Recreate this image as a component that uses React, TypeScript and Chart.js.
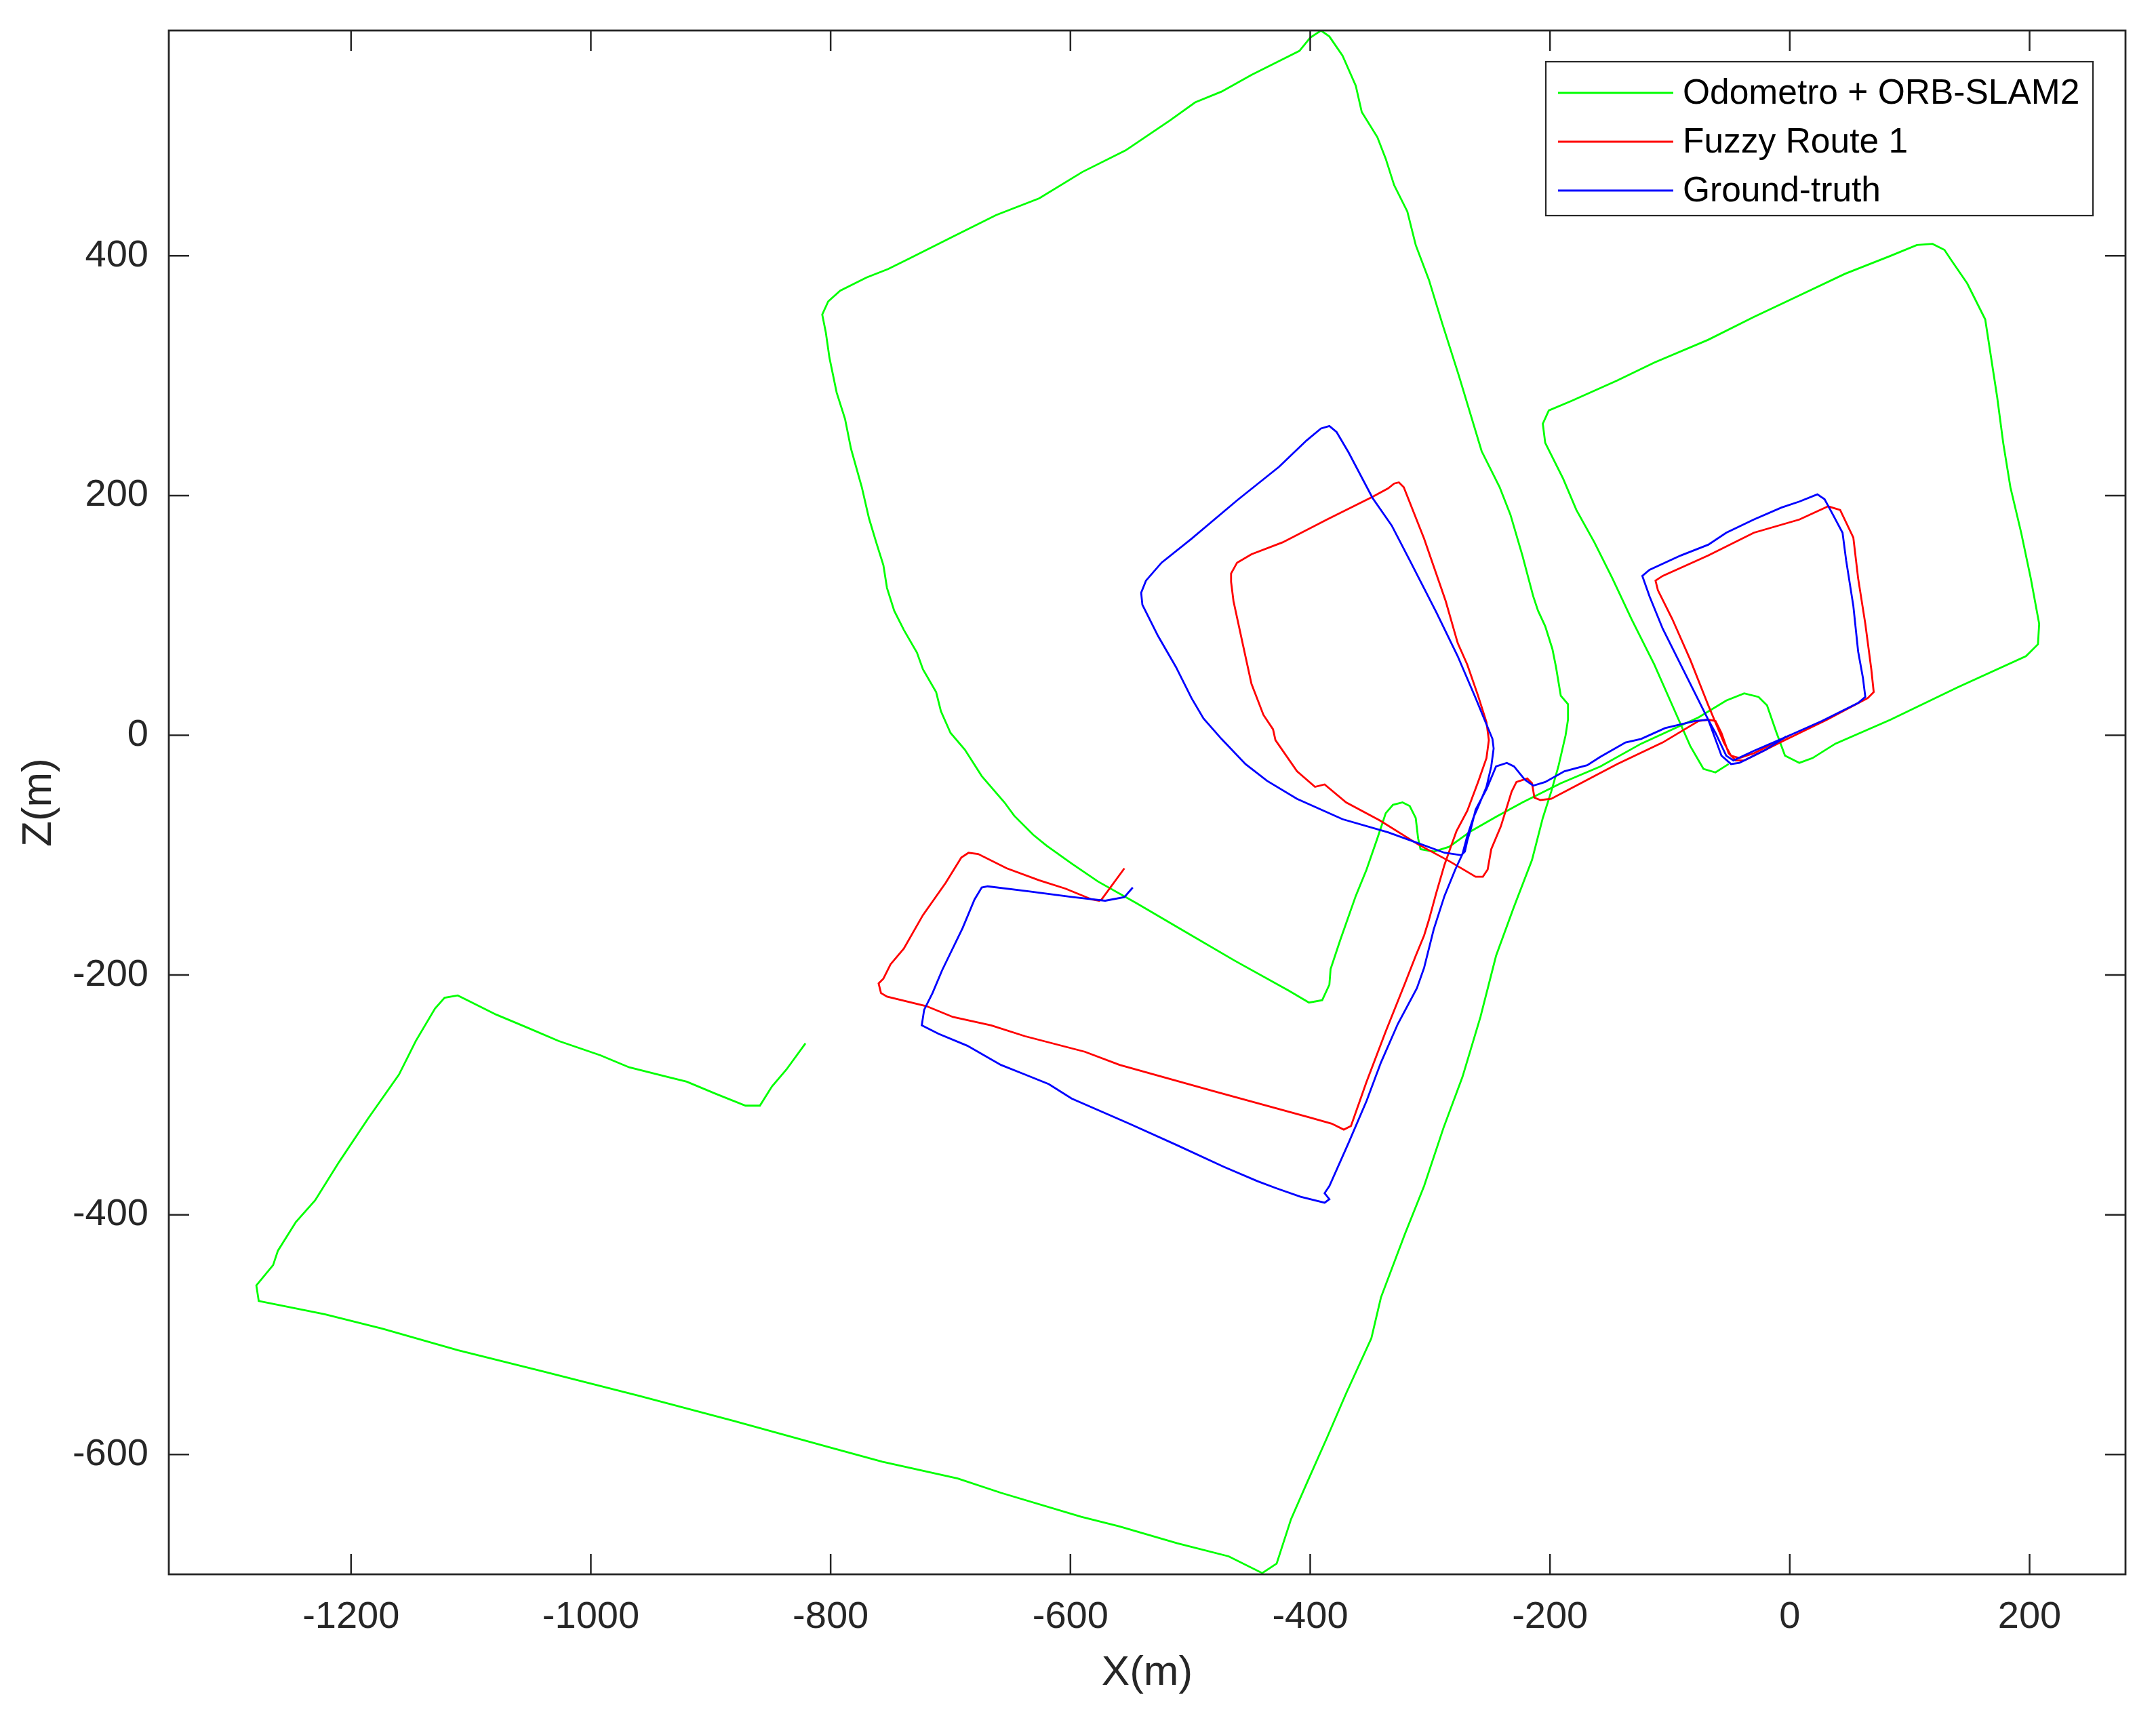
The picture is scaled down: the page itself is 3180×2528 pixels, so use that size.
import React, { useEffect, useRef } from "react";
import { Chart, registerables } from "chart.js";

Chart.register(...registerables);

// ---- Data (metres) ----
const odometroX = [
  -821, -837, -849, -859, -871, -896, -920, -936, -968, -992, -1027, -1055, -1079, -1103, -1111, -1122, -1130, -1146, -1160, -1186,
  -1210, -1230, -1246, -1261, -1265, -1279, -1277, -1222, -1174, -1111, -1039, -960, -881, -801, -757, -694, -658, -591, -559, -511,
  -468, -440, -428, -416, -402, -386, -370, -349, -341, -321, -305, -289, -273, -258, -245, -230, -215, -206, -199, -193,
  -187, -185, -185, -191, -195, -198, -204, -210, -214, -223, -233, -242, -257, -276, -290, -301, -312, -319, -330, -337,
  -344, -357, -362, -373, -384, -391, -400, -409, -427, -449, -474, -496, -517, -554, -590, -626, -662, -698, -734, -752,
  -770, -792, -802, -807, -804, -801, -795, -788, -783, -774, -768, -762, -756, -753, -747, -739, -728, -723, -712, -708,
  -700, -688, -674, -655, -647, -631, -620, -599, -577, -545, -504, -463, -418, -401, -390, -384, -383, -375, -362, -353,
  -344, -337, -331, -323, -317, -312, -310, -308, -297, -284, -266, -245, -223, -191, -158, -124, -76, -53, -38, -26,
  -19, -11, -4, 8, 19, 38, 84, 140, 197, 207, 208, 201, 193, 184, 178, 173, 163, 148, 135, 129,
  119, 106, 84, 46, 8, -30, -68, -113, -144, -182, -201, -206, -204, -189, -178, -163, -148, -132, -113, -98,
  -83, -72, -62, -51,
];
const odometroY = [
  -257, -279, -293, -309, -309, -299, -289, -285, -277, -267, -255, -243, -233, -221, -217, -219, -228, -255, -283, -320,
  -356, -388, -406, -430, -442, -459, -472, -483, -495, -513, -531, -551, -572, -594, -606, -620, -632, -652, -660, -674,
  -685, -699, -691, -654, -622, -586, -549, -503, -469, -416, -376, -328, -285, -235, -184, -143, -104, -69, -47, -26,
  0, 13, 26, 33, 57, 72, 91, 104, 116, 150, 184, 207, 237, 300, 344, 380, 409, 437, 459, 481,
  499, 520, 542, 567, 583, 588, 582, 571, 562, 551, 537, 528, 513, 488, 470, 448, 434, 416, 398, 389,
  382, 371, 362, 351, 336, 315, 286, 264, 239, 207, 181, 161, 142, 123, 104, 88, 69, 55, 36, 20,
  2, -12, -34, -56, -67, -83, -92, -107, -122, -140, -164, -188, -213, -223, -221, -208, -195, -171, -134, -112,
  -86, -65, -58, -56, -59, -69, -86, -95, -97, -93, -80, -68, -56, -40, -26, -7, 15, 29, 35, 32,
  25, 2, -17, -23, -19, -7, 13, 40, 66, 76, 93, 131, 169, 207, 244, 282, 347, 377, 396, 405,
  410, 409, 400, 385, 367, 349, 330, 311, 296, 279, 271, 260, 244, 214, 188, 161, 131, 97, 59, 25,
  -9, -28, -31, -24,
];

const fuzzyX = [
  -555, -574, -576, -582, -604, -626, -653, -677, -685, -691, -704, -723, -739, -750, -756, -760, -758, -753, -720, -698,
  -666, -638, -588, -559, -480, -400, -382, -372, -366, -353, -337, -321, -312, -305, -301, -295, -288, -282, -278, -269,
  -260, -253, -251, -253, -260, -269, -277, -287, -305, -322, -326, -330, -335, -348, -386, -423, -449, -461, -466, -466,
  -464, -456, -449, -439, -431, -429, -411, -396, -388, -370, -342, -310, -284, -262, -256, -252, -249, -241, -232, -228,
  -219, -215, -213, -208, -199, -180, -144, -106, -76, -68, -62, -57, -51, -45, -38, -4, 31, 65, 70, 68,
  63, 57, 53, 42, 32, 8, -30, -68, -106, -112, -110, -98, -83, -68, -55, -49, -42, -30, 0,
];
const fuzzyY = [
  -111, -137, -138, -137, -128, -121, -111, -99, -98, -102, -123, -150, -178, -191, -203, -207, -215, -218, -226, -235,
  -242, -251, -264, -275, -297, -319, -324, -329, -326, -289, -247, -207, -184, -167, -154, -132, -108, -91, -80, -63,
  -39, -19, -4, 11, 33, 59, 77, 112, 164, 207, 211, 210, 206, 199, 180, 161, 151, 144, 135, 128,
  112, 75, 43, 17, 5, -4, -30, -43, -41, -56, -71, -91, -105, -118, -118, -112, -95, -76, -47, -39,
  -36, -40, -52, -54, -53, -43, -24, -6, 12, 13, 12, 2, -15, -21, -21, -4, 13, 31, 36, 55,
  93, 131, 165, 188, 191, 180, 169, 150, 133, 129, 121, 97, 63, 25, -6, -17, -19, -15, 0,
];

const groundX = [
  -548, -555, -571, -598, -636, -669, -674, -680, -690, -707, -715, -722, -724, -710, -686, -658, -638, -618, -599, -551,
  -511, -472, -444, -428, -408, -388, -384, -388, -384, -368, -353, -341, -327, -311, -305, -297, -288, -279, -273, -269,
  -264, -260, -253, -249, -247, -248, -262, -277, -295, -317, -332, -348, -368, -378, -384, -391, -403, -426, -461, -499,
  -524, -537, -541, -540, -527, -512, -499, -489, -474, -454, -436, -411, -373, -335, -310, -288, -274, -271, -269, -266,
  -262, -253, -245, -236, -230, -221, -214, -204, -188, -169, -158, -137, -124, -104, -79, -68, -62, -53, -47, -30,
  0, 27, 57, 63, 61, 57, 53, 47, 44, 36, 29, 23, 8, -7, -30, -53, -68, -91, -117, -123,
  -117, -106, -87, -68, -57, -49, -42, -20, -3,
];
const groundY = [
  -127, -135, -138, -135, -130, -126, -127, -137, -161, -196, -215, -229, -242, -249, -259, -275, -283, -291, -303, -324,
  -342, -360, -372, -378, -385, -390, -387, -382, -376, -340, -305, -273, -241, -211, -194, -162, -134, -112, -99, -84,
  -69, -60, -43, -26, -11, -3, 31, 66, 103, 146, 175, 198, 236, 253, 258, 256, 246, 224, 196, 164,
  144, 129, 119, 109, 83, 57, 31, 14, -3, -24, -38, -53, -70, -81, -90, -98, -100, -97, -88, -78,
  -62, -45, -26, -23, -26, -37, -42, -39, -30, -25, -18, -6, -3, 6, 12, 13, 2, -17, -21, -13,
  0, 12, 27, 32, 48, 70, 108, 146, 169, 184, 197, 201, 195, 190, 180, 169, 159, 150, 138, 133,
  116, 89, 51, 13, -17, -24, -23, -12, -1,
];

const seriesLabels = ["Odometro + ORB-SLAM2", "Fuzzy Route 1", "Ground-truth"];
const seriesColors = ["#00ff00", "#ff0000", "#0000ff"];

const xTickValues = [-1200, -1000, -800, -600, -400, -200, 0, 200];
const yTickValues = [-600, -400, -200, 0, 200, 400];
const xLimits = [-1352, 280];
const yLimits = [-700, 588];

const FONT = "'Liberation Sans', Arial, Helvetica, sans-serif";
const AXIS_COLOR = "#262626";

const toPoints = (xs: number[], ys: number[]) => xs.map((x, i) => ({ x, y: ys[i] }));

const framePlugin = {
  id: "matlabFrame",
  afterDraw(chart: any) {
    const { ctx, chartArea, scales } = chart;
    const { left, right, top, bottom } = chartArea;
    ctx.save();
    ctx.strokeStyle = AXIS_COLOR;
    ctx.lineWidth = 2.5;
    const tl = 30;
    ctx.beginPath();
    for (const v of xTickValues) {
      const px = scales.x.getPixelForValue(v);
      ctx.moveTo(px, bottom);
      ctx.lineTo(px, bottom - tl);
      ctx.moveTo(px, top);
      ctx.lineTo(px, top + tl);
    }
    for (const v of yTickValues) {
      const py = scales.y.getPixelForValue(v);
      ctx.moveTo(left, py);
      ctx.lineTo(left + tl, py);
      ctx.moveTo(right, py);
      ctx.lineTo(right - tl, py);
    }
    ctx.stroke();
    ctx.lineWidth = 2.8;
    ctx.strokeRect(left, top, right - left, bottom - top);

    // Legend box (inside axes, north-east)
    const bx = 2280, by = 91, bw = 807, bh = 227;
    ctx.fillStyle = "#ffffff";
    ctx.fillRect(bx, by, bw, bh);
    ctx.lineWidth = 2.2;
    ctx.strokeStyle = AXIS_COLOR;
    ctx.strokeRect(bx, by, bw, bh);
    const rows = [137, 209, 281];
    ctx.font = `51.5px ${FONT}`;
    ctx.textBaseline = "middle";
    ctx.textAlign = "left";
    seriesLabels.forEach((lab, i) => {
      ctx.strokeStyle = seriesColors[i];
      ctx.lineWidth = 2.8;
      ctx.beginPath();
      ctx.moveTo(2298, rows[i]);
      ctx.lineTo(2468, rows[i]);
      ctx.stroke();
      ctx.fillStyle = "#000000";
      ctx.fillText(lab, 2482, rows[i] + 2);
    });
    ctx.restore();
  },
};

export default function App() {
  const canvasRef = useRef<HTMLCanvasElement | null>(null);

  useEffect(() => {
    if (!canvasRef.current) return;
    const allX = [odometroX, fuzzyX, groundX];
    const allY = [odometroY, fuzzyY, groundY];
    const orders = [3, 2, 1];
    const datasets = seriesLabels.map((label, i) => ({
      label,
      data: toPoints(allX[i], allY[i]),
      borderColor: seriesColors[i],
      backgroundColor: seriesColors[i],
      showLine: true,
      pointRadius: 0,
      pointHoverRadius: 0,
      borderWidth: 2.8,
      tension: 0,
      fill: false,
      order: orders[i],
    }));

    const zeroPad = (s: any) => {
      s.paddingTop = 0;
      s.paddingBottom = 0;
      s.paddingLeft = 0;
      s.paddingRight = 0;
    };

    const chart = new Chart(canvasRef.current, {
      type: "scatter",
      data: { datasets },
      options: {
        responsive: false,
        animation: false,
        devicePixelRatio: 1,
        layout: { padding: { top: 45, right: 45, left: 0, bottom: 0 } },
        plugins: { legend: { display: false }, tooltip: { enabled: false } },
        scales: {
          x: {
            type: "linear",
            min: xLimits[0],
            max: xLimits[1],
            afterBuildTicks: (s: any) => {
              s.ticks = xTickValues.map((v) => ({ value: v }));
            },
            afterFit: (s: any) => {
              s.height = 206;
              zeroPad(s);
            },
            grid: { display: false, drawTicks: false, tickLength: 0 },
            border: { display: false },
            ticks: {
              padding: 30,
              color: AXIS_COLOR,
              font: { family: FONT, size: 56 },
              maxRotation: 0,
              autoSkip: false,
              callback: (v: any) => String(v),
            },
            title: {
              display: true,
              text: "X(m)",
              color: AXIS_COLOR,
              font: { family: FONT, size: 62 },
              padding: { top: 0, bottom: 23 },
            },
          },
          y: {
            type: "linear",
            min: yLimits[0],
            max: yLimits[1],
            afterBuildTicks: (s: any) => {
              s.ticks = yTickValues.map((v) => ({ value: v }));
            },
            afterFit: (s: any) => {
              s.width = 249;
              zeroPad(s);
            },
            grid: { display: false, drawTicks: false, tickLength: 0 },
            border: { display: false },
            ticks: {
              padding: 30,
              color: AXIS_COLOR,
              font: { family: FONT, size: 56 },
              autoSkip: false,
              callback: (v: any) => String(v),
            },
            title: {
              display: true,
              text: "Z(m)",
              color: AXIS_COLOR,
              font: { family: FONT, size: 62 },
              padding: { top: 21, bottom: 0 },
            },
          },
        },
      } as any,
      plugins: [framePlugin],
    });
    return () => chart.destroy();
  }, []);

  return (
    <div style={{ position: "absolute", left: 0, top: 0, width: 3180, height: 2528, background: "#ffffff" }}>
      <canvas ref={canvasRef} width={3180} height={2528} style={{ display: "block", width: 3180, height: 2528 }} />
    </div>
  );
}
